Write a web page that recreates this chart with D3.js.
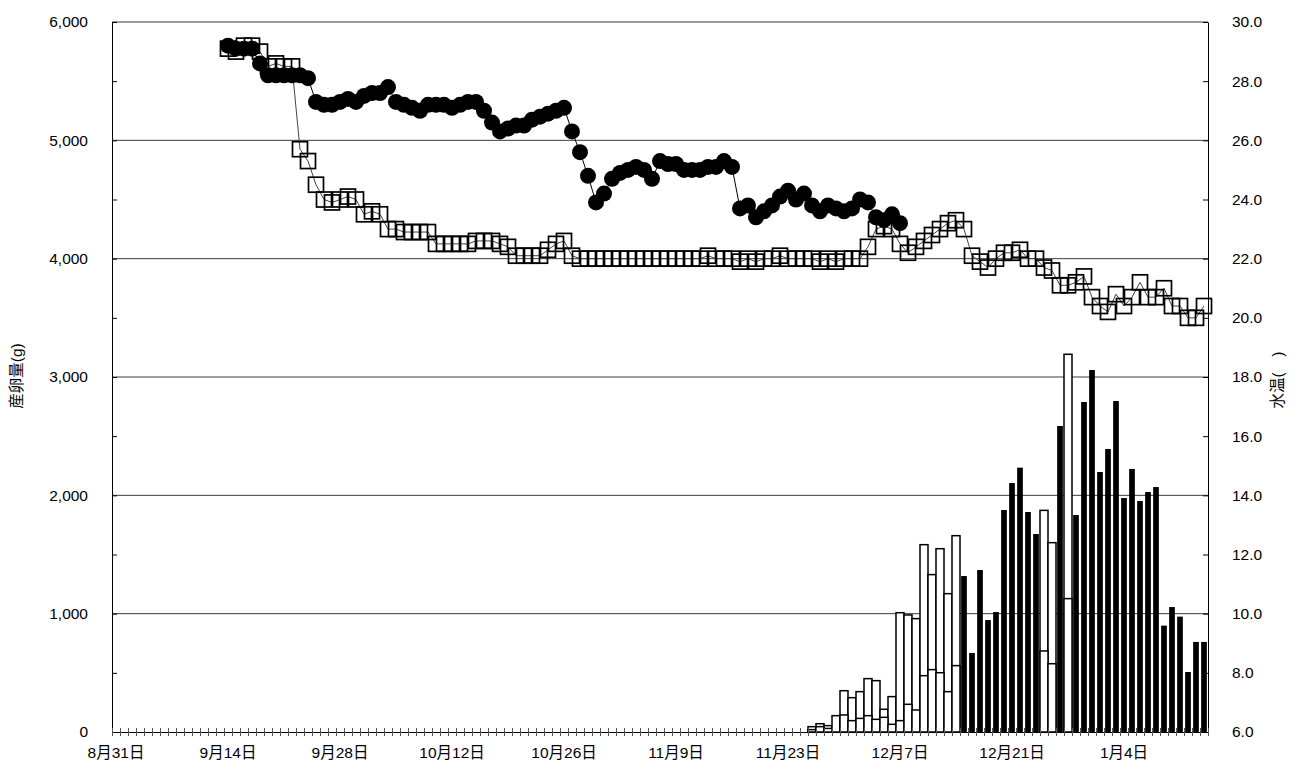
<!DOCTYPE html>
<html>
<head>
<meta charset="utf-8">
<script src="https://cdn.jsdelivr.net/npm/d3@7"></script>
<style>
  body { margin: 0; background: #fff; }
  svg text { font-family: "Liberation Sans", "Noto Sans CJK JP", Arial, sans-serif; fill: #000; }
</style>
</head>
<body>
<svg id="chart" width="1300" height="774"></svg>
<script>
// ---- daily category axis: 8/31 .. 1/14 ----
const firstDay = new Date(2008, 7, 31);
const endDay = new Date(2009, 0, 15); // exclusive
const xTickLabels = ["8月31日", "9月14日", "9月28日", "10月12日", "10月26日",
                     "11月9日", "11月23日", "12月7日", "12月21日", "1月4日"];
const eggTickValues = [0, 1000, 2000, 3000, 4000, 5000, 6000];
const tempTickValues = [6, 8, 10, 12, 14, 16, 18, 20, 22, 24, 26, 28, 30];

// ---- water temperature (℃), tank A (filled circles), from 9/14 ----
const tempAStart = new Date(2008, 8, 14);
const tempA = [
  29.2, 29.1, 29.1, 29.1, 28.6, 28.2, 28.2, 28.2, 28.2, 28.2, 28.1,
  27.3, 27.2, 27.2, 27.3, 27.4, 27.3, 27.5, 27.6, 27.6, 27.8,
  27.3, 27.2, 27.1, 27.0, 27.2, 27.2, 27.2, 27.1, 27.2, 27.3,
  27.3, 27.0, 26.6, 26.3, 26.4, 26.5, 26.5, 26.7, 26.8, 26.9,
  27.0, 27.1, 26.3, 25.6, 24.8, 23.9, 24.2, 24.7, 24.9, 25.0,
  25.1, 25.0, 24.7, 25.3, 25.2, 25.2, 25.0, 25.0, 25.0, 25.1,
  25.1, 25.3, 25.1, 23.7, 23.8, 23.4, 23.6, 23.8, 24.1, 24.3,
  24.0, 24.2, 23.8, 23.6, 23.8, 23.7, 23.6, 23.7, 24.0, 23.9,
  23.4, 23.3, 23.5, 23.2
];

// ---- water temperature (℃), tank B (open squares), from 9/14 ----
const tempBStart = new Date(2008, 8, 14);
const tempB = [
  29.1, 29.0, 29.2, 29.2, 29.0, 28.5, 28.6, 28.5, 28.5, 25.7,
  25.3, 24.5, 24.0, 23.9, 24.0, 24.1, 24.0, 23.5, 23.6, 23.5,
  23.0, 23.0, 22.9, 22.9, 22.9, 22.9, 22.5, 22.5, 22.5, 22.5,
  22.5, 22.6, 22.6, 22.6, 22.5, 22.4, 22.1, 22.1, 22.1, 22.1,
  22.3, 22.5, 22.6, 22.1, 22.0, 22.0, 22.0, 22.0, 22.0, 22.0,
  22.0, 22.0, 22.0, 22.0, 22.0, 22.0, 22.0, 22.0, 22.0, 22.0,
  22.1, 22.0, 22.0, 22.0, 21.9, 22.0, 21.9, 22.0, 22.0, 22.1,
  22.0, 22.0, 22.0, 22.0, 21.9, 22.0, 21.9, 22.0, 22.0, 22.0,
  22.4, 23.0, 23.1, 23.0, 22.5, 22.2, 22.4, 22.6, 22.8, 23.0,
  23.2, 23.3, 23.0, 22.1, 21.9, 21.7, 22.0, 22.2, 22.2, 22.3,
  22.0, 22.0, 21.7, 21.6, 21.1, 21.1, 21.2, 21.4, 20.7, 20.4,
  20.2, 20.8, 20.4, 20.7, 21.2, 20.7, 20.7, 21.0, 20.4, 20.4,
  20.0, 20.0, 20.4
];

// ---- egg production (g), open bars: total and its inner part, from 11/26 ----
const eggOpenStart = new Date(2008, 10, 26);
const eggOpenTotal = [
  45, 70, 54, 138, 349, 290, 341, 451, 434, 192, 299, 1008, 989, 958,
  1583, 1330, 1549, 1169, 1659,
  null, null, null, null, null, null, null, null, null, null,
  1873, 1600, null, 3192
];
const eggOpenInner = [
  20, 45, 30, null, 144, 96, 115, 138, 107, 124, 65, 96, 234, 186,
  476, 527, 501, 341, 561,
  null, null, null, null, null, null, null, null, null, null,
  685, 577, null, 1127
];

// ---- egg production (g), solid bars, from 12/15 ----
const eggSolidStart = new Date(2008, 11, 15);
const eggSolid = [
  1318, 668, 1369, 946, 1014, 1876, 2104, 2234, 1859, 1673,
  null, null, 2586, null,
  1834, 2789, 3059, 2197, 2392, 2797, 1977, 2223, 1952, 2028, 2070,
  899, 1056, 975, 507, 761, 761
];

// ---------------------------------------------------------------
(function drawChart() {
  const days = d3.timeDay.range(firstDay, endDay);
  const dayIndex = d => d3.timeDay.count(firstDay, d);
  const seriesFrom = (start, vals) =>
    vals.map((v, i) => ({ i: dayIndex(start) + i, v }));

  const plotLeft = 112, plotRight = 1208, plotTop = 22, plotBottom = 732;
  const svg = d3.select("#chart");

  const x = d3.scaleBand().domain(d3.range(days.length)).range([plotLeft, plotRight]).padding(0);
  const xEdge = d3.scaleLinear().domain([0, days.length]).range([plotLeft, plotRight]);
  const yEgg = d3.scaleLinear().domain([0, 6000]).range([plotBottom, plotTop]);
  const yTemp = d3.scaleLinear().domain([6, 30]).range([plotBottom, plotTop]);
  const bw = x.bandwidth();
  const cx = i => x(i) + bw / 2;

  // horizontal grid lines
  svg.append("g").selectAll("line")
    .data(eggTickValues.filter(v => v > 0))
    .join("line")
    .attr("x1", plotLeft).attr("x2", plotRight)
    .attr("y1", d => yEgg(d)).attr("y2", d => yEgg(d))
    .attr("stroke", "#3c3c3c").attr("stroke-width", 1);

  // open bars (total, then inner part on top)
  const openTotal = seriesFrom(eggOpenStart, eggOpenTotal).filter(d => d.v != null);
  const openInner = seriesFrom(eggOpenStart, eggOpenInner).filter(d => d.v != null);
  [openTotal, openInner].forEach(data => {
    svg.append("g").selectAll("rect").data(data).join("rect")
      .attr("x", d => x(d.i)).attr("width", bw)
      .attr("y", d => yEgg(d.v)).attr("height", d => yEgg(0) - yEgg(d.v))
      .attr("fill", "#fff").attr("stroke", "#000").attr("stroke-width", 1.5);
  });

  // solid bars
  const solidW = 5.7;
  svg.append("g").selectAll("rect")
    .data(seriesFrom(eggSolidStart, eggSolid).filter(d => d.v != null))
    .join("rect")
    .attr("x", d => cx(d.i) - solidW / 2).attr("width", solidW)
    .attr("y", d => yEgg(d.v)).attr("height", d => yEgg(0) - yEgg(d.v))
    .attr("fill", "#000");

  // left axis (egg production)
  const gL = svg.append("g").attr("transform", `translate(${plotLeft},0)`)
    .call(d3.axisLeft(yEgg).tickValues(d3.range(0, 6001, 500))
      .tickSizeInner(-5).tickSizeOuter(0).tickPadding(24)
      .tickFormat(d => d % 1000 === 0 ? d3.format(",")(d) : ""));
  gL.select(".domain").attr("stroke", "#000");
  gL.selectAll(".tick line").attr("stroke", "#000");
  gL.selectAll("text").style("font-size", "15.5px");

  // right axis (water temperature)
  const gR = svg.append("g").attr("transform", `translate(${plotRight},0)`)
    .call(d3.axisRight(yTemp).tickValues(tempTickValues)
      .tickSizeInner(-5).tickSizeOuter(0).tickPadding(24)
      .tickFormat(d3.format(".1f")));
  gR.select(".domain").attr("stroke", "#000");
  gR.selectAll(".tick line").attr("stroke", "#000");
  gR.selectAll("text").style("font-size", "15.5px");

  // bottom axis: daily tick marks crossing the axis line
  const gB = svg.append("g").attr("transform", `translate(0,${plotBottom})`)
    .call(d3.axisBottom(xEdge).tickValues(d3.range(0, days.length + 1))
      .tickSizeInner(4).tickSizeOuter(0).tickFormat(""));
  gB.select(".domain").attr("stroke", "#000");
  gB.selectAll(".tick line").attr("y1", -4).attr("y2", 4).attr("stroke", "#555");

  // bottom axis labels every 14 days
  const labelIdx = xTickLabels.map((_, k) => k * 14);
  const gBL = svg.append("g").attr("transform", `translate(0,${plotBottom})`)
    .call(d3.axisBottom(x).tickValues(labelIdx).tickSize(0).tickPadding(15)
      .tickFormat(i => xTickLabels[i / 14]));
  gBL.select(".domain").remove();
  gBL.selectAll("text").style("font-size", "15.5px");

  // temperature series: open squares
  const lineGen = d3.line().x(d => cx(d.i)).y(d => yTemp(d.v));
  const sqData = seriesFrom(tempBStart, tempB);
  svg.append("path").datum(sqData).attr("d", lineGen)
    .attr("fill", "none").attr("stroke", "#444").attr("stroke-width", 1);
  const sq = 15;
  svg.append("g").selectAll("rect").data(sqData).join("rect")
    .attr("x", d => cx(d.i) - sq / 2).attr("y", d => yTemp(d.v) - sq / 2)
    .attr("width", sq).attr("height", sq)
    .attr("fill", "none").attr("stroke", "#000").attr("stroke-width", 1.7);

  // temperature series: filled circles
  const ciData = seriesFrom(tempAStart, tempA);
  svg.append("path").datum(ciData).attr("d", lineGen)
    .attr("fill", "none").attr("stroke", "#000").attr("stroke-width", 1);
  svg.append("g").selectAll("circle").data(ciData).join("circle")
    .attr("cx", d => cx(d.i)).attr("cy", d => yTemp(d.v)).attr("r", 8)
    .attr("fill", "#000");

  // axis titles
  svg.append("text").attr("transform", "translate(22,376) rotate(-90)")
    .attr("text-anchor", "middle").style("font-size", "15.5px").text("産卵量(g)");
  svg.append("text").attr("transform", "translate(1283,380) rotate(-90)")
    .attr("text-anchor", "middle").style("font-size", "15.5px").text("水温(\u3000)");
})();
</script>
</body>
</html>
